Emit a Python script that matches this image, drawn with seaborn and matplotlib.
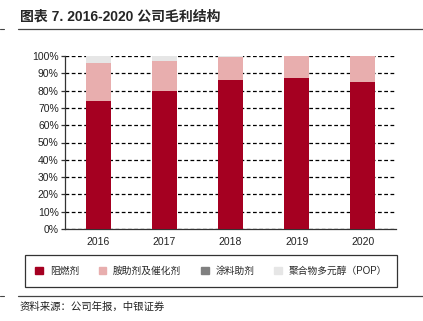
import matplotlib
matplotlib.use("Agg")
import matplotlib.pyplot as plt
import matplotlib.patches as mpatches
import numpy as np
import pandas as pd
import seaborn as sns

years = ["2016", "2017", "2018", "2019", "2020"]
flame = [74, 80, 86, 87, 85]          # 阻燃剂
amine = [22, 17, 13.5, 13, 15]        # 胺助剂及催化剂
coating = [0, 0, 0, 0, 0]             # 涂料助剂
pop = [4, 3, 0.5, 0, 0]               # 聚合物多元醇（POP）
series_names = ["阻燃剂", "胺助剂及催化剂", "涂料助剂", "聚合物多元醇（POP）"]
colors = ["#A50021", "#E8AEAE", "#808080", "#E6E6E6"]

sns.set_theme(style="white")
plt.rcParams["font.family"] = ["Liberation Sans", "Noto Sans CJK SC", "DejaVu Sans"]

fig = plt.figure(figsize=(4.23, 3.21), dpi=100)
ax = fig.add_axes([65/423, 1-229/321, (396-65)/423, (229-56)/321])

vals = np.array([flame, amine, coating, pop], dtype=float)
cum = np.cumsum(vals, axis=0)
for i in range(3, -1, -1):
    df = pd.DataFrame({"year": years, "v": cum[i] / 100.0})
    sns.barplot(data=df, x="year", y="v", color=colors[i], width=0.38,
                saturation=1, ax=ax, zorder=3, linewidth=0)

ax.set_ylim(0, 1.0)
ax.set_xlim(-0.5, 4.5)
ax.set_yticks(np.arange(0, 1.01, 0.1))
ax.set_yticklabels([f"{int(round(t*100))}%" for t in np.arange(0, 1.01, 0.1)])
ax.set_xlabel("")
ax.set_ylabel("")
ax.yaxis.grid(True, linestyle=(0, (3, 2)), color="black", linewidth=0.9, zorder=0)
ax.set_axisbelow(True)
for s in ["top", "right"]:
    ax.spines[s].set_visible(False)
for s in ["left", "bottom"]:
    ax.spines[s].set_color("#333333")
    ax.spines[s].set_linewidth(0.9)

# ticks at category boundaries
ax.set_xticks(range(5))
ax.set_xticklabels(years)
ax.tick_params(axis="x", length=0, labelsize=7.5, pad=6, colors="#222222")
ax.set_xticks(np.arange(-0.5, 5.0, 1.0), minor=True)
ax.tick_params(axis="x", which="minor", length=4, width=0.9, color="#333333", direction="out")
ax.tick_params(axis="y", length=3, width=0.9, color="#333333", direction="out",
               labelsize=7.5, pad=1.5, colors="#222222", left=True)
for lab in ax.get_xticklabels() + ax.get_yticklabels():
    lab.set_color("#222222")

# legend
handles = [mpatches.Patch(color=c, label=n) for c, n in zip(colors, series_names)]
leg = fig.legend(handles=handles, loc="center", bbox_to_anchor=(211/423, 1-271/321),
                 ncol=4, frameon=True, fancybox=False,
                 handlelength=0.8, handleheight=0.8, handletextpad=0.7,
                 columnspacing=2.0, borderpad=1.1,
                 prop={"family": ["Liberation Sans", "Noto Sans CJK SC"], "size": 7})
leg.get_frame().set_edgecolor("black")
leg.get_frame().set_linewidth(0.9)

# title and rules
fig.text(20/423, 1-17/321, "图表 7. 2016-2020 公司毛利结构", fontsize=10, fontweight="bold",
         va="center", ha="left", family=["Liberation Sans", "Noto Sans CJK SC"])
fig.add_artist(plt.Line2D([18/423, 1.0], [1-29/321, 1-29/321], color="#444444", linewidth=0.9))
fig.add_artist(plt.Line2D([18/423, 1.0], [1-296/321, 1-296/321], color="#444444", linewidth=0.9))
fig.add_artist(plt.Line2D([0, 4/423], [1-29/321, 1-29/321], color="#444444", linewidth=0.8))
fig.add_artist(plt.Line2D([0, 4/423], [1-296/321, 1-296/321], color="#444444", linewidth=0.8))
fig.text(20/423, 1-307/321, "资料来源：公司年报，中银证券", fontsize=7.5, va="center", ha="left",
         family=["Noto Sans CJK SC"], color="#222222")

fig.savefig("out.png", dpi=100)
